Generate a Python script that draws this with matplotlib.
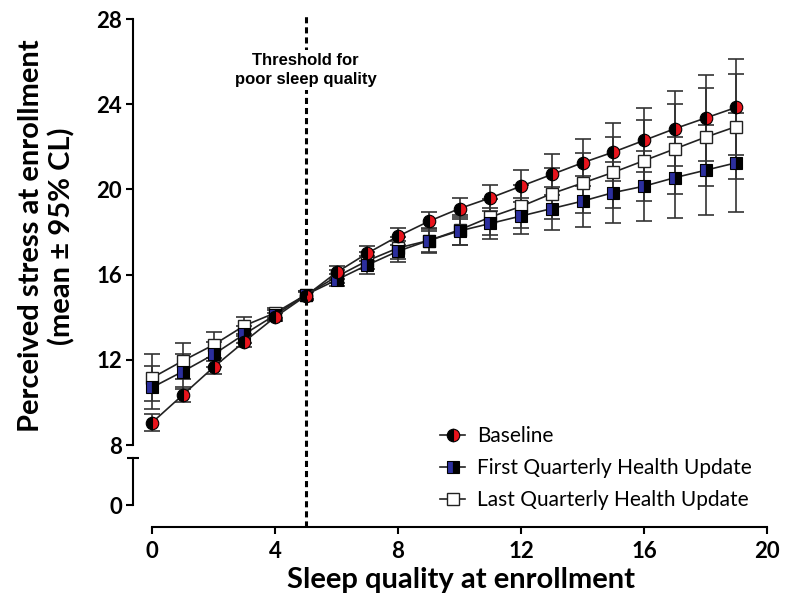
import matplotlib
matplotlib.use("Agg")
import matplotlib.pyplot as plt
import matplotlib.transforms as mtransforms
from matplotlib.lines import Line2D

# ---------------- data ----------------
sleep_quality = list(range(20))
baseline = [9.05, 10.35, 11.65, 12.85, 14.0, 15.0, 16.1, 17.0, 17.8, 18.5,
            19.1, 19.6, 20.15, 20.7, 21.25, 21.75, 22.3, 22.85, 23.35, 23.85]
baseline_ci = [0.4, 0.35, 0.3, 0.25, 0.2, 0.2, 0.3, 0.35, 0.4, 0.45,
               0.5, 0.6, 0.75, 0.95, 1.1, 1.35, 1.5, 1.75, 2.0, 2.25]
first_qhu = [10.7, 11.45, 12.25, 13.2, 14.1, 15.05, 15.75, 16.45, 17.1, 17.6,
             18.05, 18.4, 18.75, 19.1, 19.45, 19.85, 20.15, 20.55, 20.9, 21.25]
first_ci = [1.0, 0.8, 0.6, 0.4, 0.25, 0.2, 0.3, 0.4, 0.5, 0.55,
            0.65, 0.75, 0.85, 1.0, 1.2, 1.45, 1.65, 1.9, 2.1, 2.33]
last_qhu = [11.15, 11.95, 12.7, 13.6, 14.2, 15.05, 15.9, 16.65, 17.25, 17.6,
            18.1, 18.7, 19.2, 19.8, 20.3, 20.8, 21.35, 21.9, 22.45, 22.95]
last_ci = [1.1, 0.85, 0.6, 0.4, 0.25, 0.2, 0.3, 0.4, 0.5, 0.6,
           0.7, 0.85, 1.0, 1.2, 1.4, 1.65, 1.9, 2.1, 2.3, 2.45]
threshold = 5
x_ticks = [0, 4, 8, 12, 16, 20]
y_ticks_top = [8, 12, 16, 20, 24, 28]
y_ticks_bottom = [0]
labels = ["Baseline", "First Quarterly Health Update", "Last Quarterly Health Update"]

# ---------------- figure ----------------
W, H = 785, 603
fig = plt.figure(figsize=(W / 100, H / 100), dpi=100)
FONT = "Lato"
TICK_FS = 16

def fx(px):
    return px / W

def fy(py):
    return 1 - py / H

x_left, x_right = 152, 767
top_ax = fig.add_axes([fx(x_left), fy(445), fx(x_right - x_left), (445 - 19) / H])
bot_ax = fig.add_axes([fx(x_left), fy(505), fx(x_right - x_left), (505 - 458) / H])

for ax in (top_ax, bot_ax):
    ax.set_xlim(0, 20)
    ax.patch.set_alpha(0)
    ax.spines["top"].set_visible(False)
    ax.spines["right"].set_visible(False)
    ax.spines["left"].set_position(("outward", 19 * 72 / 100))
    ax.spines["left"].set_linewidth(1.5)
    ax.tick_params(axis="y", direction="out", length=5, width=1.5, pad=3)

top_ax.set_ylim(8, 28)
top_ax.spines["bottom"].set_visible(False)
top_ax.set_xticks([])
top_ax.set_yticks(y_ticks_top)
top_ax.set_yticklabels([str(v) for v in y_ticks_top], fontfamily=FONT,
                       fontweight="bold", fontsize=TICK_FS)

bot_ax.set_ylim(0, 2.2)
bot_ax.set_yticks(y_ticks_bottom)
bot_ax.set_yticklabels([str(v) for v in y_ticks_bottom], fontfamily=FONT,
                       fontweight="bold", fontsize=TICK_FS)
bot_ax.set_yticks([2.2], minor=True)
bot_ax.tick_params(axis="y", which="minor", direction="inout", length=8, width=1.5)
bot_ax.spines["bottom"].set_position(("outward", 22 * 72 / 100))
bot_ax.spines["bottom"].set_linewidth(1.5)
bot_ax.set_xticks(x_ticks)
bot_ax.set_xticklabels([str(v) for v in x_ticks], fontfamily=FONT,
                       fontweight="bold", fontsize=TICK_FS)
bot_ax.tick_params(axis="x", direction="out", length=5, width=1.5, pad=5)

# ---------------- series ----------------
series = [
    (baseline, baseline_ci, dict(marker="o", markersize=9, fillstyle="left",
                                 markerfacecolor="black", markerfacecoloralt="#e8141c",
                                 markeredgecolor="black", markeredgewidth=0.8)),
    (first_qhu, first_ci, dict(marker="s", markersize=8.5, fillstyle="left",
                               markerfacecolor="#2c2f9e", markerfacecoloralt="black",
                               markeredgecolor="black", markeredgewidth=0.8)),
    (last_qhu, last_ci, dict(marker="s", markersize=8.5, fillstyle="full",
                             markerfacecolor="white", markeredgecolor="#222222",
                             markeredgewidth=1.0)),
]
handles = []
for (vals, ci, mk), lab in zip(series[::-1], labels[::-1]):
    top_ax.errorbar(sleep_quality, vals, yerr=ci, fmt="none", ecolor="#333333",
                    elinewidth=1.2, capsize=6, capthick=1.2, clip_on=False, zorder=2)
    (ln,) = top_ax.plot(sleep_quality, vals, color="#222222", lw=1.2, clip_on=False,
                        zorder=3, label=lab, **mk)
    handles.append(ln)
handles = handles[::-1]

# threshold line spanning both axes and the gap
trans = mtransforms.blended_transform_factory(top_ax.transData, fig.transFigure)
fig.add_artist(Line2D([threshold, threshold], [fy(527), fy(15)], transform=trans,
                      color="black", lw=2.2, linestyle=(0, (2.0, 1.3)), zorder=1))
fig.text(threshold, fy(70), "Threshold for\npoor sleep quality", transform=trans,
         ha="center", va="center", fontsize=12, fontweight="bold",
         family=["Liberation Sans Narrow", "Liberation Sans", "DejaVu Sans"],
         linespacing=1.3,
         bbox=dict(facecolor="white", edgecolor="none", pad=2), zorder=5)

# legend
leg = fig.legend(handles=handles, labels=labels, loc="upper left",
                 bbox_to_anchor=(fx(430), fy(416)), frameon=False,
                 prop={"family": FONT, "size": 15}, handlelength=1.2,
                 handletextpad=0.55, labelspacing=0.57, borderpad=0)

# axis labels
fig.text(fx(461), fy(580), "Sleep quality at enrollment", ha="center", va="center",
         fontfamily=FONT, fontweight="bold", fontsize=21)
fig.text(fx(47), fy(236), "Perceived stress at enrollment\n(mean \u00b1 95% CL)",
         ha="center", va="center", rotation=90, fontfamily=FONT,
         fontweight="bold", fontsize=21, linespacing=1.2, multialignment="center")

fig.savefig("out.png", dpi=100)
